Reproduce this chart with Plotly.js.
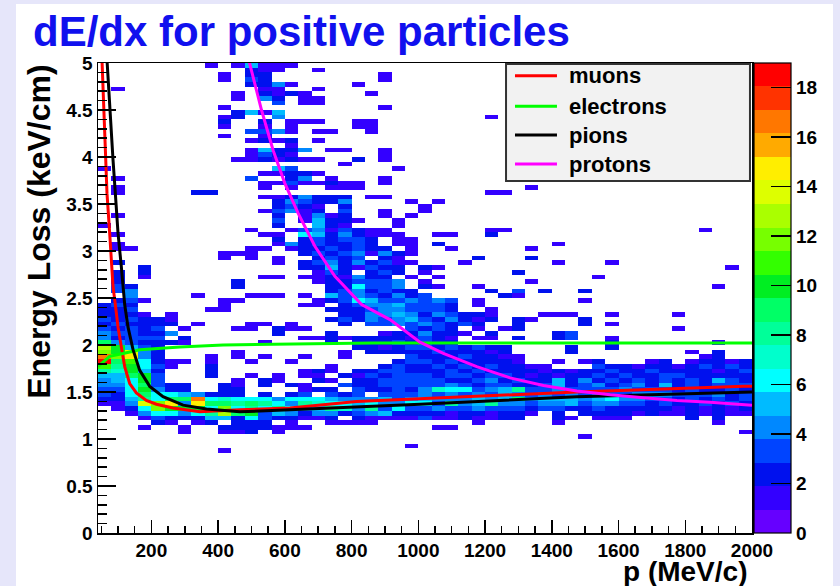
<!DOCTYPE html>
<html><head><meta charset="utf-8">
<script src="https://cdn.plot.ly/plotly-3.0.1.min.js"></script>
<style>
html,body{margin:0;padding:0;background:#e6e6fa;width:840px;height:586px;overflow:hidden;}
#chart{position:absolute;left:16px;top:4px;width:817px;height:582px;background:#fff;}
</style></head><body><div id="chart"></div>
<script>
// ---- histogram binning ----
const X_MIN = 40, X_MAX = 2000, X_BIN = 40;
const Y_MIN = 0, Y_MAX = 5, Y_BIN = 0.05;
const TOP_ROW = 99;            // first string below = bin 4.95-5.00
const COUNT_CODES = '.123456789abcdefghij';   // '.'=0, 'a'=10 ... 'j'=19

// counts per cell, one string per dE/dx bin (top to bottom), one char per momentum bin
const countRows = [
"........1. 15111..... .......... .......... .........",
".......... .211..1... .......... .......... .........",
".........1 .22....... .1........ .......... .........",
".........1 .32....... .1........ .......... .........",
".......... .2241....1 .......... .......... .........",
".1........ ..11..1... .......... .......... .........",
".......... 1.2121.... 1......... .......... .........",
".......... 1.42.11... .......... .......... .........",
".......... ...3.11... .......... .......... .........",
".........1 .......... .1........ .......... .........",
".......... 2515...... .......... .......... .........",
".........1 2..4...... .........1 .......... .........",
".........2 ..2.111..1 1......... .......... .........",
".........1 ..1.1....1 1......... .......... .........",
".......... .3341.11.. 1......... .......... .........",
".........1 ..1....... .......... .......... .........",
".......... .1212.1... .......... .......... .........",
".......... ....1..... .......... .......... .........",
".......... .15224.11. .1........ .......... .........",
".......... .1321..... .1........ .......... .........",
".......... 1121211..2 .1........ .......... .........",
".......... ........1. .......... .......... .........",
"1......... ...53..... ..1....... .......... .........",
".......... ..11221... .......... .......... .........",
".1........ .3..24.1.. .1........ .......... .........",
".......... ..11311211 .1........ .......... .........",
".1........ ..1.1..111 .......... ..1....... .........",
".1.....22. .......... .........1 1......... .........",
".......... ..1124222. 11........ .......... .........",
".......... ...243224. ...1.1.... .......... .........",
".......... ...2321.2. ....1..... .......... .........",
".......... ..13412.3. .1..1..... .......... .........",
".1........ ...2.1412. .1.1...... .......... .........",
".......... ...3.15221 ..1....... .......... .........",
"1......... ...2..521. ..1....... .......... .........",
".......... .1..134132 11.......1 1......... .....1...",
".1........ ..11.65242 111..11..2 .......... .........",
".......... ...2.23233 2.11...... .......... .........",
".1........ ...1423223 2.11.2.... ....1..... .........",
".11....... .11.122323 22.1..1... ..1....... .........",
".........1 11...23234 1421...... .......... .........",
".........1 .1.1..2323 .21.....2. ..2....... .........",
".2........ ...1.23424 2311...1.. ....1...1. .........",
"...2...... .....22521 322.21.... .......... .......1.",
".2.2...... ......132. 232.1..... .2........ .........",
".2.1...... ..11.11214 22.1.1.... .......1.. .........",
".2........ 2.....1223 334.1..... ..1....... .........",
".32....... 2......226 334.21..1. .......... ......1..",
".34....... .......234 2322.....2 .3.2..2... .........",
"..4....1.. .111.1.534 32423..... 21........ .........",
".231.....1 1.....1236 5334343.1. ......1... .........",
"232......1 .....11.23 4453332.1. .......... .........",
"223.....11 .......222 3443332..1 .......... .........",
"2221.1.... ........22 4454243221 ...111..1. ...1.....",
"323221.... .......232 4345324212 .21...2... .........",
"232222.1.. .11.1...2. 334343232. .2....2.1. .........",
"32323.1... 11.211.... ...3232.1. 12........ ...1.....",
"433224.... ...2...2.. .1224221.2 ....23.... .........",
"42333.2... .....11212 2221321.11 .2..23..1. .........",
"9432221... ..1....2.2 2232322... ........2. ......1..",
"da532..... .........2 2123323232 2....2..2. .........",
"cae42..... 1.......1. 2222232221 2....2.... ....1.2..",
"hcf42...1. 1.1..1..1. ...3222322 11........ .....12..",
"j9b6211.1. .1..1..... ..23323222 21..1.12.. .12.12212",
"b8a631..2. .......1.. .232232323 2211...322 122123232",
"87a52...2. .....121.2 2332223232 2221212232 232222123",
"559a3...2. .1.1.11.21 3233323323 3212122323 223322222",
"456a3..... 1.21..21.2 2333332234 2322524232 323232532",
"4469322..2 1.2.21..32 2333334323 3223523423 425232333",
"336a422..2 2....122.3 2232476634 5833433334 333232232",
"3269665422 2.2.23.323 .333434343 5434343433 444333423",
"2258699h67 6664666544 4534544454 5945554564 433232323",
"114ecf4f99 8986487665 6446638458 4434453443 323223232",
".126caaa6c 6868645874 8363343343 3323322322 222121212",
"..1466468d 9a35424423 4522221221 221.2.2222 121121211",
"...1322255 26322112.2 1111311211 22..21.111 ....2.2..",
"....21.12. 222.1..111 1.......1. ....1..... ......1..",
"...1..1..2 222111.... .....11... .......... .........",
"......1..1 12.1...... .......... .......... ........1",
".......... .......... .......... ......1... .........",
".......... .......... .......... .......... .........",
".......... .......... ...1...... .......... .........",
".........1 .......... .......... .......... ........."
];

// ---- curves (p in MeV/c, dE/dx in keV/cm) ----
const muonP = [52, 60, 67, 75, 85, 92, 100, 110, 120, 135, 155, 185, 215, 265, 345, 465, 615, 815, 1005, 1475, 1975, 2000];
const muonE = [5.03, 4.32, 3.61, 3.19, 2.62, 2.43, 2.19, 1.98, 1.77, 1.59, 1.49, 1.41, 1.37, 1.33, 1.29, 1.31, 1.33, 1.40, 1.43, 1.50, 1.56, 1.56];
const electronP = [40, 75, 115, 165, 285, 415, 865, 1975, 2000];
const electronE = [1.77, 1.88, 1.91, 1.95, 1.98, 2.00, 2.02, 2.02, 2.02];
const pionP = [67, 75, 85, 92, 100, 110, 120, 130, 145, 165, 195, 235, 295, 365, 465, 615, 815, 1005, 1475, 1975, 2000];
const pionE = [5.03, 4.5, 3.97, 3.61, 3.19, 2.83, 2.43, 2.19, 1.95, 1.73, 1.56, 1.45, 1.36, 1.32, 1.29, 1.31, 1.34, 1.37, 1.45, 1.50, 1.50];
const protonP = [492, 530, 565, 600, 640, 690, 750, 830, 915, 1005, 1075, 1175, 1275, 1375, 1475, 1575, 1675, 1775, 1875, 1995, 2000];
const protonE = [5.03, 4.5, 4.07, 3.72, 3.40, 3.05, 2.73, 2.43, 2.27, 2.03, 1.91, 1.77, 1.65, 1.57, 1.51, 1.47, 1.44, 1.41, 1.39, 1.36, 1.36];

const legendNames = ['muons', 'electrons', 'pions', 'protons'];
const legendColors = ['#ff0000', '#00ff00', '#000000', '#ff00ff'];
const paletteColors = ['#6600ff','#3300ff','#0011ee','#0044ff','#0088ff','#00bbff','#00ffff','#00ffcc','#00ff99','#00ff66',
                       '#00ee22','#33ff00','#77ff00','#aaff00','#ddff00','#ffee00','#ffaa00','#ff7700','#ff3300','#ff0000'];
const Z_MAX = 19;

// ---- build the histogram matrix ----
const nx = Math.round((X_MAX - X_MIN) / X_BIN), ny = Math.round((Y_MAX - Y_MIN) / Y_BIN);
const xEdges = [], yEdges = [];
for (let i = 0; i <= nx; i++) xEdges.push(X_MIN + i * X_BIN);
for (let j = 0; j <= ny; j++) yEdges.push(+(Y_MIN + j * Y_BIN).toFixed(2));
const z = [];
for (let j = 0; j < ny; j++) z.push(new Array(nx).fill(null));
countRows.forEach((s, r) => {
  const row = s.replace(/ /g, '');
  const k = TOP_ROW - r;
  for (let i = 0; i < nx && i < row.length; i++) {
    const c = COUNT_CODES.indexOf(row[i]);
    if (c > 0) z[k][i] = c;
  }
});
const colorscale = [];
paletteColors.forEach((c, i) => { colorscale.push([i / paletteColors.length, c]); colorscale.push([(i + 1) / paletteColors.length, c]); });

const FONT = 'Liberation Sans, Arial, Helvetica, sans-serif';
const tickFont = {family: FONT, size: 19, color: '#000', weight: 'bold'};

const traces = [
  {type: 'heatmap', x: xEdges, y: yEdges, z: z, zmin: 0, zmax: Z_MAX, colorscale: colorscale,
   zsmooth: false, hoverinfo: 'skip',
   colorbar: {x: 1.0035, xanchor: 'left', xpad: 0, ypad: 0, y: 0.5, yanchor: 'middle', len: 1, lenmode: 'fraction',
              thickness: 37, thicknessmode: 'pixels', outlinewidth: 1.2, outlinecolor: '#000',
              ticks: 'inside', ticklen: 20, tickwidth: 1.5, tickcolor: '#000', tick0: 0, dtick: 2,
              tickfont: tickFont}},
  {type: 'scatter', mode: 'lines', x: muonP, y: muonE, line: {color: legendColors[0], width: 3}, hoverinfo: 'skip'},
  {type: 'scatter', mode: 'lines', x: electronP, y: electronE, line: {color: legendColors[1], width: 3}, hoverinfo: 'skip'},
  {type: 'scatter', mode: 'lines', x: pionP, y: pionE, line: {color: legendColors[2], width: 3}, hoverinfo: 'skip'},
  {type: 'scatter', mode: 'lines', x: protonP, y: protonE, line: {color: legendColors[3], width: 3}, hoverinfo: 'skip'}
];

// ---- legend box drawn as shapes + text ----
const legRowsY = [0.9730, 0.9079, 0.8468, 0.7851];
const shapes = [{type: 'rect', xref: 'paper', yref: 'paper', x0: 0.6239, x1: 0.9969, y0: 0.7489, y1: 0.9979,
                 fillcolor: '#f2f2f2', line: {color: '#333', width: 2}, layer: 'above'}];
const annotations = [];
legendNames.forEach((name, i) => {
  shapes.push({type: 'line', xref: 'paper', yref: 'paper', x0: 0.6376, x1: 0.7018, y0: legRowsY[i], y1: legRowsY[i],
               line: {color: legendColors[i], width: 3}, layer: 'above'});
  annotations.push({xref: 'paper', yref: 'paper', x: 0.7171, y: legRowsY[i], xanchor: 'left', yanchor: 'middle',
                    text: name, showarrow: false, font: {family: FONT, size: 22, color: '#000', weight: 'bold'}});
});
annotations.push({xref: 'paper', yref: 'paper', x: 0.994, y: -0.081, xanchor: 'right', yanchor: 'middle', borderpad: 0,
                  text: 'p (MeV/c)', showarrow: false, font: {family: FONT, size: 28, color: '#000', weight: 'bold'}});
annotations.push({xref: 'paper', yref: 'paper', x: -0.0894, y: 0.640, xanchor: 'center', yanchor: 'middle', textangle: -90,
                  text: 'Energy Loss (keV/cm)', showarrow: false, font: {family: FONT, size: 32, color: '#000', weight: 'bold'}});

const layout = {
  width: 817, height: 582,
  margin: {l: 82, r: 81, t: 59, b: 53, autoexpand: false},
  paper_bgcolor: '#ffffff', plot_bgcolor: '#ffffff',
  font: {family: FONT, size: 19, color: '#000'},
  title: {text: 'dE/dx for positive particles', font: {family: FONT, size: 42, color: '#1010ee', weight: 'bold'},
          x: 17 / 817, xref: 'container', xanchor: 'left', y: 1 - 13 / 582, yref: 'container', yanchor: 'top'},
  xaxis: {range: [X_MIN, X_MAX], ticks: 'inside', ticklen: 13, tickwidth: 1.5, tickcolor: '#000', tick0: 0, dtick: 200,
          minor: {ticks: 'inside', ticklen: 7, tickwidth: 1.5, tickcolor: '#000', tick0: 0, dtick: 50, showgrid: false},
          showline: true, linecolor: '#000', linewidth: 1.5, mirror: true, showgrid: false, zeroline: false,
          tickfont: tickFont},
  yaxis: {range: [Y_MIN, Y_MAX], ticks: 'inside', ticklen: 18, tickwidth: 1.5, tickcolor: '#000', tick0: 0, dtick: 0.5,
          minor: {ticks: 'inside', ticklen: 9, tickwidth: 1.5, tickcolor: '#000', tick0: 0, dtick: 0.1, showgrid: false},
          showline: true, linecolor: '#000', linewidth: 1.5, mirror: true, showgrid: false, zeroline: false,
          tickfont: tickFont},
  showlegend: false,
  shapes: shapes,
  annotations: annotations
};

Plotly.newPlot('chart', traces, layout, {staticPlot: true, displayModeBar: false});
</script></body></html>
